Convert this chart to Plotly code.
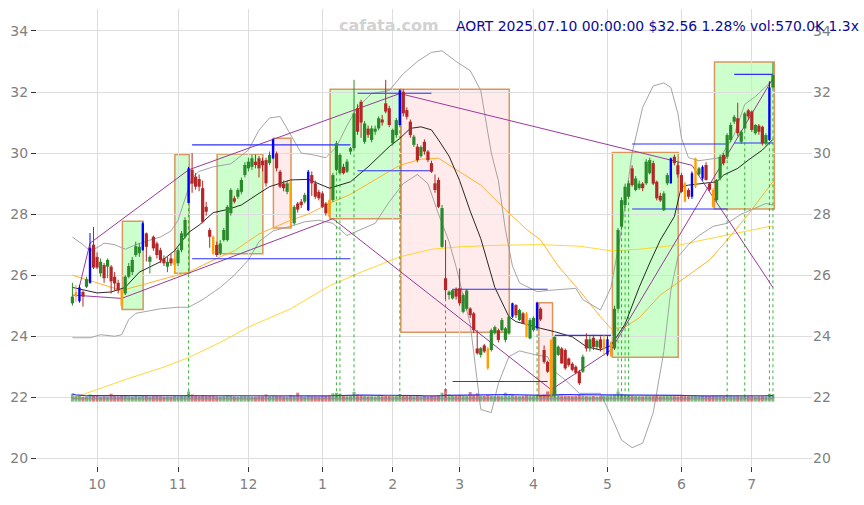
import plotly.graph_objects as go

# ---- daily OHLC (trading-day index 0..199, 2024-09-20 .. 2025-07-10) ----
opens = [25.08, 25.30, 25.15, 25.45, 25.62, 25.75, 27.00, 26.60, 26.06, 26.33,
         26.28, 26.28, 25.95, 25.75, 25.50, 25.40, 25.95, 26.10, 26.66, 26.72,
         26.82, 27.37, 26.44, 27.26, 27.04, 26.82, 26.55, 26.28, 26.55, 26.33,
         26.39, 26.82, 27.26, 28.37, 29.45, 29.23, 29.15, 28.85, 28.24, 27.48,
         27.26, 26.99, 26.72, 27.15, 27.15, 28.03, 28.52, 28.57, 28.73, 29.28,
         29.50, 29.55, 29.72, 29.83, 29.75, 29.77, 29.67, 29.83, 29.99, 29.39,
         29.00, 28.73, 29.06, 27.70, 28.35, 28.41, 28.41, 28.13, 29.28, 29.01,
         28.73, 28.68, 28.35, 28.46, 28.46, 29.45, 29.34, 29.55, 29.39, 30.05,
         30.16, 31.47, 31.68, 30.37, 30.80, 30.43, 30.70, 30.81, 31.10, 31.63,
         31.47, 30.32, 30.59, 30.92, 32.01, 31.41, 31.03, 30.27, 30.21, 29.90,
         30.37, 30.05, 29.67, 29.01, 29.12, 26.93, 25.90, 25.35, 25.24, 25.55,
         25.57, 24.80, 24.90, 24.91, 24.75, 23.60, 23.39, 23.70, 23.60, 23.55,
         24.10, 24.20, 24.20, 23.88, 24.09, 24.64, 25.02, 24.53, 24.75, 24.75,
         23.93, 24.20, 24.26, 24.90, 23.55, 23.16, 22.10, 22.05, 23.39, 23.60,
         23.55, 23.27, 23.10, 23.00, 22.84, 22.84, 23.90, 23.60, 23.95, 23.65,
         23.90, 23.60, 23.40, 23.35, 23.60, 24.90, 27.59, 28.30, 28.57, 29.50,
         28.79, 28.85, 29.00, 29.01, 29.34, 29.67, 29.06, 28.60, 28.13, 29.01,
         29.01, 29.88, 29.60, 29.28, 29.01, 28.79, 28.57, 28.90, 29.30, 29.17,
         29.61, 29.00, 28.79, 28.46, 29.17, 29.94, 29.88, 30.43, 31.03, 31.14,
         30.37, 30.81, 31.40, 31.36, 30.65, 30.90, 30.86, 30.32, 30.43, 32.15]
highs = [25.75, 25.68, 25.68, 25.50, 25.95, 27.38, 27.58, 26.75, 26.55, 26.40,
         26.55, 26.33, 26.10, 25.85, 25.55, 26.00, 26.40, 26.60, 27.10, 27.05,
         27.75, 27.40, 26.65, 27.30, 27.10, 26.90, 26.65, 26.60, 26.70, 26.60,
         26.90, 27.45, 27.90, 29.55, 30.00, 29.35, 29.30, 29.10, 28.40, 27.55,
         27.30, 27.10, 27.15, 27.55, 28.30, 28.85, 28.60, 28.85, 29.20, 29.70,
         29.85, 29.95, 29.95, 29.90, 29.85, 29.85, 30.05, 30.48, 30.05, 29.45,
         29.10, 29.10, 29.10, 28.30, 28.40, 28.50, 28.70, 29.45, 29.40, 29.10,
         28.80, 28.75, 28.40, 28.50, 29.35, 30.40, 30.00, 29.65, 29.80, 30.20,
         32.40, 31.60, 31.75, 31.05, 30.90, 30.90, 30.90, 31.20, 31.25, 32.40,
         31.55, 30.80, 31.15, 32.09, 32.09, 31.50, 31.10, 30.60, 30.30, 30.25,
         30.45, 30.10, 29.75, 29.30, 29.20, 28.30, 27.15, 25.50, 25.55, 25.60,
         26.22, 25.40, 25.55, 24.95, 24.80, 24.20, 23.65, 23.75, 23.65, 24.25,
         24.35, 24.25, 24.60, 24.30, 24.70, 25.10, 25.05, 24.90, 24.80, 24.80,
         24.60, 24.65, 25.13, 24.95, 23.70, 23.20, 23.90, 24.00, 23.70, 23.65,
         23.60, 23.30, 23.15, 23.05, 22.90, 23.40, 24.10, 24.00, 24.05, 23.90,
         24.00, 24.05, 24.00, 23.85, 25.00, 27.55, 28.55, 29.00, 29.10, 29.60,
         29.25, 29.10, 29.05, 29.80, 29.85, 29.75, 29.10, 28.70, 28.75, 29.35,
         29.85, 29.95, 29.70, 29.35, 29.05, 28.85, 29.40, 29.85, 29.55, 29.60,
         29.70, 29.05, 28.85, 29.15, 29.95, 30.00, 30.65, 31.00, 31.25, 31.65,
         30.75, 31.35, 31.45, 31.40, 30.95, 30.95, 30.90, 30.65, 32.35, 32.97]
lows = [25.00, 25.13, 25.10, 24.97, 25.58, 25.72, 26.20, 26.20, 25.95, 25.75,
        25.90, 25.40, 25.50, 25.40, 24.86, 25.35, 25.90, 26.00, 26.60, 26.60,
        26.80, 26.45, 26.06, 26.80, 26.55, 26.40, 26.30, 26.10, 26.30, 26.05,
        26.30, 26.75, 27.20, 28.35, 28.70, 28.80, 28.75, 27.70, 27.95, 26.90,
        26.66, 26.60, 26.65, 27.10, 27.10, 27.95, 28.35, 28.50, 28.65, 29.20,
        29.40, 29.45, 29.50, 29.20, 29.40, 28.90, 29.60, 29.80, 29.40, 28.85,
        28.75, 28.65, 27.55, 27.65, 28.05, 28.20, 28.35, 28.10, 28.60, 28.50,
        28.45, 28.20, 27.95, 27.85, 28.40, 29.40, 29.30, 29.30, 29.35, 29.95,
        30.10, 30.60, 30.50, 30.30, 30.50, 30.35, 30.60, 30.75, 30.90, 31.30,
        30.85, 30.25, 30.50, 30.90, 31.20, 31.10, 30.50, 30.20, 29.70, 29.85,
        29.95, 29.70, 29.35, 28.70, 28.20, 26.90, 25.20, 25.20, 25.20, 25.20,
        25.00, 24.75, 24.85, 24.60, 24.10, 23.40, 23.30, 23.45, 22.90, 23.50,
        24.05, 23.80, 24.15, 23.80, 24.05, 24.60, 24.60, 24.50, 24.40, 23.95,
        23.90, 24.15, 24.20, 24.50, 23.10, 22.80, 22.02, 22.02, 23.35, 23.10,
        22.90, 23.00, 22.85, 22.75, 22.40, 22.80, 23.50, 23.50, 23.55, 23.55,
        23.50, 23.35, 23.35, 23.31, 23.55, 24.85, 27.50, 28.20, 28.50, 28.90,
        28.75, 28.80, 28.75, 28.95, 29.30, 28.95, 28.45, 28.40, 28.10, 28.95,
        29.00, 29.60, 29.20, 28.70, 28.40, 28.50, 28.50, 28.85, 29.25, 29.10,
        29.10, 28.75, 28.20, 28.40, 29.10, 29.60, 29.80, 30.35, 30.95, 30.55,
        30.30, 30.75, 31.10, 30.70, 30.60, 30.60, 30.25, 30.25, 30.40, 32.10]
closes = [25.30, 25.45, 25.60, 25.30, 25.87, 26.90, 26.25, 26.25, 26.44, 25.90,
          26.50, 25.80, 25.73, 25.50, 25.00, 25.95, 26.30, 26.50, 26.95, 26.93,
          27.70, 26.93, 26.60, 26.88, 26.66, 26.50, 26.39, 26.44, 26.39, 26.54,
          26.82, 27.37, 27.81, 29.50, 29.00, 28.90, 28.90, 27.75, 28.08, 27.26,
          26.70, 26.66, 27.04, 27.48, 28.24, 28.79, 28.41, 28.79, 29.12, 29.61,
          29.72, 29.83, 29.61, 29.50, 29.60, 29.01, 29.94, 30.45, 29.50, 28.90,
          28.85, 29.01, 27.86, 28.24, 28.15, 28.30, 28.63, 29.39, 29.01, 28.57,
          28.52, 28.24, 28.03, 27.92, 29.28, 30.32, 29.94, 29.34, 29.72, 30.16,
          31.30, 30.70, 31.00, 30.97, 30.60, 30.81, 30.80, 31.14, 31.00, 31.36,
          30.92, 30.76, 31.08, 32.05, 31.30, 31.19, 30.59, 30.54, 29.77, 30.20,
          30.05, 29.77, 29.39, 28.79, 28.24, 28.20, 25.51, 25.46, 25.51, 25.30,
          25.08, 25.35, 25.50, 24.69, 24.20, 23.44, 23.61, 23.50, 22.95, 24.20,
          24.30, 23.88, 24.53, 24.26, 24.64, 25.08, 24.69, 24.86, 24.42, 23.98,
          24.53, 24.60, 25.10, 24.55, 23.16, 22.84, 23.88, 23.98, 23.66, 23.11,
          22.95, 23.06, 22.90, 22.80, 22.46, 23.33, 23.60, 23.90, 23.65, 23.85,
          23.60, 23.90, 23.90, 23.80, 24.90, 27.48, 28.46, 28.90, 29.01, 28.95,
          29.17, 29.00, 28.85, 29.72, 29.77, 29.00, 28.52, 28.45, 28.68, 29.28,
          29.83, 29.67, 29.30, 28.73, 28.41, 28.57, 29.34, 29.83, 29.50, 29.55,
          29.12, 28.80, 28.24, 29.12, 29.88, 29.67, 30.59, 30.92, 31.19, 30.65,
          30.70, 31.30, 31.20, 30.76, 30.92, 30.70, 30.32, 30.59, 32.15, 32.56]
volumes_k = [610, 430, 470, 380, 410, 560, 520, 440, 390, 420,
             400, 620, 430, 410, 480, 450, 420, 400, 430, 410,
             520, 470, 400, 430, 450, 420, 390, 410, 400, 440,
             430, 460, 490, 800, 560, 470, 430, 520, 440, 460,
             480, 420, 410, 430, 520, 500, 410, 400, 430, 450,
             420, 410, 400, 430, 420, 560, 430, 480, 450, 440,
             420, 410, 520, 460, 700, 420, 400, 470, 430, 420,
             410, 430, 440, 480, 650, 700, 640, 450, 430, 440,
             760, 560, 520, 450, 420, 430, 410, 440, 420, 480,
             460, 430, 440, 580, 520, 450, 460, 420, 440, 410,
             430, 420, 450, 470, 520, 700, 1000, 560, 470, 450,
             520, 480, 460, 750, 540, 650, 460, 440, 520, 480,
             430, 450, 440, 700, 480, 520, 450, 430, 440, 500,
             460, 440, 520, 470, 560, 800, 900, 850, 520, 480,
             460, 440, 430, 450, 520, 480, 430, 420, 440, 410,
             430, 480, 470, 500, 560, 800, 620, 540, 520, 480,
             440, 430, 420, 460, 450, 440, 460, 430, 450, 440,
             480, 430, 420, 440, 470, 430, 480, 500, 440, 470,
             440, 430, 460, 450, 480, 430, 520, 470, 440, 460,
             430, 480, 440, 450, 420, 430, 440, 430, 620, 570]

# highlighted bars
blue_idx = [2, 5, 20, 33, 57, 67, 93, 125, 132, 152, 170, 176, 179, 198]
orange_idx = [1, 14, 29, 40, 62, 73, 118, 129, 136, 151, 153, 174, 177, 182]

# signal markers (bar index)
buy_signals = [33, 75, 76, 80, 93, 132, 137, 155, 156, 157, 158, 186, 191, 198, 199]
sell_signals = [106]

# month ticks (first trading day of each month)
month_ticks = [7, 30, 50, 71, 91, 110, 131, 152, 173, 193]
month_labels = ["10", "11", "12", "1", "2", "3", "4", "5", "6", "7"]

# moving averages / bands, read at sample bars: (bar, value)
mid_band = [(0, 25.6), (4, 25.5), (7, 25.42), (11, 25.45), (15, 25.6), (19, 26.1), (25, 26.44),
            (29, 26.8), (33, 27.4), (36, 27.64), (40, 28.05), (44, 28.15), (48, 28.3), (53, 28.68),
            (56, 28.9), (62, 29.12), (67, 29.14), (73, 28.85), (79, 29.06), (84, 29.55), (90, 30.21),
            (93, 30.48), (96, 30.81), (99, 30.86), (102, 30.76), (104, 30.43), (107, 29.9), (110, 29.1),
            (113, 28.1), (116, 27.2), (120, 25.6), (124, 24.64), (126, 24.48), (133, 24.26),
            (137, 24.15), (142, 23.98), (146, 23.66), (150, 23.55), (153, 23.7), (157, 24.4),
            (161, 25.6), (164, 26.4), (167, 27.15), (171, 27.92), (173, 28.9), (175, 28.95),
            (183, 29.06), (185, 29.28), (189, 29.5), (192, 29.77), (196, 30.1), (199, 30.45)]
upper_band = [(0, 27.25), (3, 27.0), (5, 26.8), (7, 26.9), (9, 27.05), (12, 27.0), (15, 26.85),
              (18, 27.0), (22, 27.15), (25, 27.25), (28, 27.45), (30, 27.8), (32, 28.5), (34, 29.2),
              (36, 29.4), (40, 29.55), (45, 29.65), (50, 30.1), (53, 30.75), (56, 31.15), (59, 31.2),
              (62, 30.6), (65, 30.0), (68, 29.95), (72, 29.85), (75, 30.2), (78, 30.9), (81, 31.5),
              (85, 31.95), (90, 32.05), (94, 32.6), (98, 33.0), (102, 33.3), (105, 33.35), (109, 33.0),
              (113, 32.7), (116, 32.05), (119, 30.0), (121, 29.1), (123, 27.5), (125, 26.3),
              (127, 25.75), (132, 25.46), (135, 25.5), (140, 25.55), (143, 25.57), (145, 25.2),
              (150, 24.86), (153, 25.6), (156, 27.5), (159, 30.0), (162, 31.5), (165, 32.2),
              (168, 32.3), (170, 32.15), (172, 31.3), (173, 30.5), (175, 29.85), (178, 29.75),
              (184, 29.85), (188, 30.6), (191, 31.6), (194, 31.85), (199, 32.4)]
lower_band = [(0, 23.95), (5, 23.95), (8, 24.05), (12, 24.0), (14, 24.05), (16, 24.55), (18, 24.75),
              (20, 24.8), (25, 24.9), (30, 24.95), (33, 24.95), (37, 25.2), (42, 25.6), (46, 26.0),
              (50, 26.5), (53, 27.1), (57, 27.45), (62, 27.6), (66, 27.75), (70, 27.8), (74, 27.7),
              (78, 27.3), (82, 27.5), (86, 27.7), (90, 28.4), (94, 29.0), (98, 29.3), (101, 29.0),
              (104, 28.0), (107, 27.1), (109, 26.27), (113, 24.4), (116, 21.6), (119, 21.5),
              (121, 22.45), (124, 23.33), (127, 23.52), (132, 23.38), (135, 23.33), (137, 22.84),
              (140, 22.57), (144, 22.13), (150, 22.13), (153, 21.4), (156, 20.6), (159, 20.35),
              (162, 20.5), (165, 21.5), (168, 23.5), (170, 25.5), (172, 26.6), (175, 27.0),
              (178, 27.3), (182, 27.6), (186, 27.7), (190, 28.0), (194, 28.2), (197, 28.35), (199, 28.3)]
ma_mid = [(0, 26.0), (14, 25.5), (25, 25.85), (33, 26.1), (41, 26.55), (46, 26.8), (53, 27.35),
          (62, 27.8), (67, 28.0), (73, 28.35), (79, 28.65), (84, 29.0), (90, 29.4), (93, 29.6),
          (99, 29.8), (104, 29.83), (110, 29.4), (116, 28.95), (123, 28.15), (129, 27.5),
          (133, 27.15), (138, 26.3), (144, 25.5), (150, 24.64), (153, 24.25), (157, 24.3),
          (161, 24.6), (167, 25.35), (175, 26.0), (181, 26.5), (186, 27.15), (192, 28.0), (199, 29.06)]
ma_long = [(0, 21.97), (8, 22.3), (16, 22.62), (25, 22.95), (33, 23.3), (42, 23.8), (50, 24.3),
           (62, 24.9), (73, 25.65), (82, 26.1), (93, 26.6), (102, 26.85), (110, 26.93), (121, 26.98),
           (133, 27.0), (144, 26.95), (153, 26.8), (161, 26.85), (173, 27.0), (179, 27.15),
           (190, 27.4), (199, 27.62)]

# pivot trend lines: (bar, price)
pivot_lows_line = [(0, 25.35), (14, 25.24), (74, 27.85), (136, 22.25), (153, 23.55), (199, 32.45)]
pivot_highs_line = [(2, 25.63), (5, 27.05), (33, 29.45), (93, 31.95), (176, 29.6), (199, 25.6)]

# support / resistance segments: (start bar, end bar, price)
levels = [(34, 79, 30.27), (34, 79, 26.54), (81, 102, 31.96), (81, 102, 29.42),
          (108, 135, 25.54), (108, 135, 22.52), (137, 153, 24.03),
          (159, 186, 30.30), (159, 186, 28.17), (188, 199, 32.58), (188, 199, 30.33)]

# trend boxes: (start bar, end bar, low, high, direction)
boxes = [(14.2, 20.1, 24.88, 27.77, "up"), (29.1, 33.2, 26.06, 29.95, "up"),
         (41.1, 54.1, 26.70, 29.97, "up"), (57.1, 62.1, 27.55, 30.49, "down"),
         (73.2, 93.3, 27.85, 32.09, "up"), (93.3, 124.1, 24.13, 32.09, "down"),
         (132.5, 136.4, 22.04, 25.10, "down"), (153.4, 172.1, 23.31, 30.02, "up"),
         (182.4, 199.4, 28.17, 32.98, "up")]

VOL_BASE = 21.86
n = len(opens)
fig = go.Figure()

# trend boxes
for x0, x1, y0, y1, d in boxes:
    fill = "rgba(0,255,0,0.2)" if d == "up" else "rgba(255,0,0,0.08)"
    fig.add_shape(type="rect", x0=x0, x1=x1, y0=y0, y1=y1, layer="below",
                  fillcolor=fill, line=dict(color="rgba(215,140,80,0.9)", width=1.5))


def pts(series):
    return [p[0] for p in series], [p[1] for p in series]


def add_line(series, color, width=0.9):
    xs, ys = pts(series)
    fig.add_trace(go.Scatter(x=xs, y=ys, mode="lines", line=dict(color=color, width=width),
                             hoverinfo="skip", showlegend=False))


add_line(ma_long, "#ffd21f")
add_line(ma_mid, "#ffaa1a")
add_line(upper_band, "#9a9a9a")
add_line(lower_band, "#9a9a9a")
add_line(mid_band, "#111111")
add_line(pivot_lows_line, "#9a3a9a", 1.0)
add_line(pivot_highs_line, "#9a3a9a", 1.0)

# support / resistance
lx, ly = [], []
for a, b, v in levels:
    lx += [a, b, None]
    ly += [v, v, None]
fig.add_trace(go.Scatter(x=lx, y=ly, mode="lines", line=dict(color="#2f2fff", width=1.1),
                         hoverinfo="skip", showlegend=False))

# volume strip along the bottom
vol_mean = sum(volumes_k) / n
vol_scale = 0.2 / vol_mean
for up in (True, False):
    vx, vy = [], []
    for i in range(n):
        if (closes[i] >= opens[i]) == up:
            vx += [i, i, None]
            vy += [VOL_BASE, VOL_BASE + volumes_k[i] * vol_scale, None]
    fig.add_trace(go.Scatter(x=vx, y=vy, mode="lines", opacity=0.6,
                             line=dict(color="#2e8b2e" if up else "#c0282a", width=3),
                             hoverinfo="skip", showlegend=False))
vol_ma = []
for i in range(n):
    w = volumes_k[max(0, i - 19):i + 1]
    vol_ma.append(VOL_BASE + sum(w) / len(w) * vol_scale)
fig.add_trace(go.Scatter(x=list(range(n)), y=vol_ma, mode="lines",
                         line=dict(color="#3030ff", width=1.2), hoverinfo="skip", showlegend=False))
fig.add_trace(go.Scatter(x=[0, n - 1], y=[VOL_BASE + 0.09, VOL_BASE + 0.09], mode="lines",
                         line=dict(color="#8a8a8a", width=1), hoverinfo="skip", showlegend=False))

# signal markers: dotted drop lines from the volume strip to the bar low
for sig, col in ((buy_signals, "rgba(0,150,0,0.75)"), (sell_signals, "rgba(200,40,40,0.8)")):
    sx, sy = [], []
    for i in sig:
        sx += [i, i, None]
        sy += [22.0, lows[i], None]
    fig.add_trace(go.Scatter(x=sx, y=sy, mode="lines", line=dict(color=col, width=1, dash="dot"),
                             hoverinfo="skip", showlegend=False))

# candles
blue_set, orange_set = set(blue_idx), set(orange_idx)
groups = {"up": ("#2a8a2a", 3.2), "down": ("#b52626", 3.2), "blue": ("#0000ff", 2.4),
          "orange": ("#ffa000", 2.4)}
for key, (col, bw) in groups.items():
    wx, wy, bx, by = [], [], [], []
    for i in range(n):
        if i in blue_set:
            k = "blue"
        elif i in orange_set:
            k = "orange"
        else:
            k = "up" if closes[i] >= opens[i] else "down"
        if k != key:
            continue
        wx += [i, i, None]
        wy += [lows[i], highs[i], None]
        lo, hi = min(opens[i], closes[i]), max(opens[i], closes[i])
        if hi - lo < 0.03:
            hi = lo + 0.03
        bx += [i, i, None]
        by += [lo, hi, None]
    fig.add_trace(go.Scatter(x=wx, y=wy, mode="lines", line=dict(color=col, width=1),
                             hoverinfo="skip", showlegend=False))
    fig.add_trace(go.Scatter(x=bx, y=by, mode="lines", line=dict(color=col, width=bw),
                             hoverinfo="skip", showlegend=False))

# mirror price axis on the right
fig.add_trace(go.Scatter(x=[0], y=[27], yaxis="y2", mode="markers", marker=dict(opacity=0),
                         hoverinfo="skip", showlegend=False))

tick_font = dict(family="DejaVu Sans", size=14, color="#7f7f7f")
price_ticks = [20, 22, 24, 26, 28, 30, 32, 34]
fig.update_layout(
    width=864, height=505,
    margin=dict(l=37, r=52, t=9, b=39),
    paper_bgcolor="white", plot_bgcolor="white",
    showlegend=False,
    xaxis=dict(range=[-10.06, 210.1], tickvals=month_ticks, ticktext=month_labels,
               showgrid=True, gridcolor="#dddddd", gridwidth=1, zeroline=False,
               ticks="outside", ticklen=5, tickcolor="#333333", tickfont=tick_font,
               showline=False),
    yaxis=dict(range=[19.75, 34.72], tickvals=price_ticks, showgrid=True, gridcolor="#dddddd",
               gridwidth=1, zeroline=False, ticks="outside", ticklen=5, tickcolor="#333333",
               tickfont=tick_font, showline=False),
    yaxis2=dict(range=[19.75, 34.72], tickvals=price_ticks, overlaying="y", side="right",
                showgrid=False, zeroline=False, ticks="", tickfont=tick_font, showline=False),
    annotations=[
        dict(text="<b>cafata.com</b>", x=389, y=26, xref="paper", yref="paper", showarrow=False,
             font=dict(family="DejaVu Sans", size=16, color="#d2d2d2"),
             xanchor="center", yanchor="middle"),
        dict(text="AORT 2025.07.10 00:00:00 $32.56 1.28% vol:570.0K 1.3x",
             x=454, y=26, xref="paper", yref="paper", showarrow=False,
             font=dict(family="DejaVu Sans", size=13.9, color="#0a0a96"),
             xanchor="left", yanchor="middle"),
    ],
)

# place the header texts in pixel terms
pw, ph = 864 - 37 - 52, 505 - 9 - 39
for a in fig.layout.annotations:
    a.x = (a.x - 37) / pw
    a.y = 1 - (a.y - 9) / ph

fig.write_html("out.html")
